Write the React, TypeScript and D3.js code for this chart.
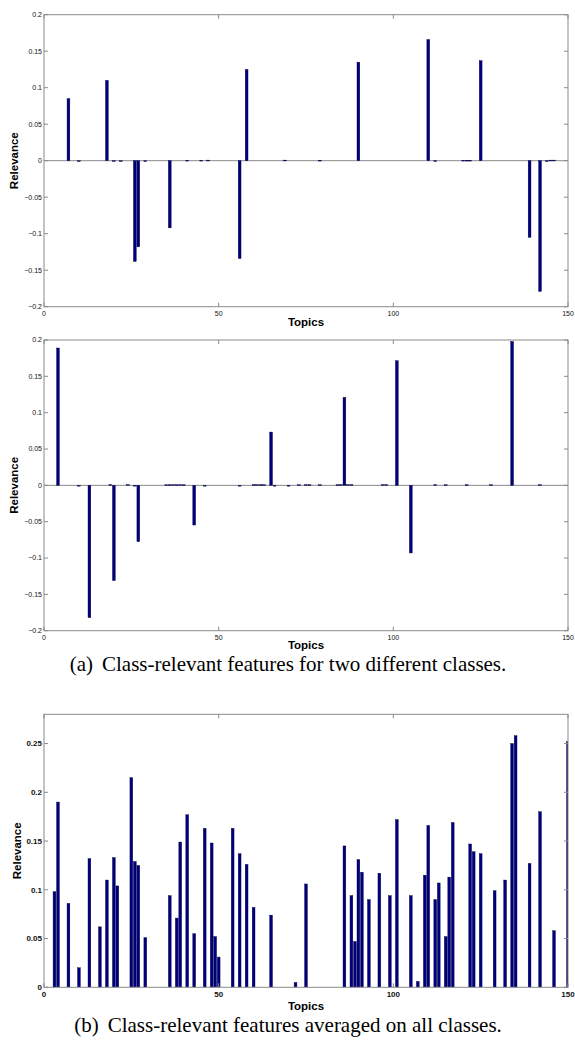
import React, { useEffect, useRef } from "react";
import * as d3 from "d3";

const width = 575;
const height = 1044;

// class A relevance per topic (topics with ~0 values drawn as tiny stubs)
const topicsA = [7, 10, 18, 20, 22, 26, 27, 29, 36, 41, 45, 47, 56, 58, 69, 79, 90, 110, 112, 120, 121, 122, 125, 139, 142, 144, 145, 146];
const valuesA = [0.085, -0.001, 0.11, -0.001, -0.001, -0.138, -0.118, -0.001, -0.092, 0.0006, 0.0006, 0.0008, -0.134, 0.125, 0.0008, 0.0006, 0.135, 0.166, -0.001, 0.0006, 0.0006, 0.0006, 0.137, -0.105, -0.179, -0.001, 0.0008, 0.0008];

// class B
const topicsB = [4, 10, 13, 19, 20, 24, 26, 27, 35, 36, 37, 38, 39, 40, 43, 46, 56, 60, 61, 62, 63, 65, 66, 70, 73, 75, 76, 79, 84, 85, 86, 87, 88, 97, 98, 101, 105, 112, 115, 121, 128, 134, 142];
const valuesB = [0.189, -0.001, -0.182, 0.001, -0.131, 0.001, -0.001, -0.0775, 0.0008, 0.0008, 0.001, 0.0008, 0.001, 0.0008, -0.0546, -0.001, -0.001, 0.0008, 0.001, 0.001, 0.0008, 0.0733, -0.001, -0.001, 0.0008, 0.001, 0.0008, 0.0008, 0.0008, 0.001, 0.121, 0.001, 0.001, 0.001, 0.001, 0.1715, -0.093, 0.001, 0.0008, 0.0008, 0.0008, 0.198, 0.0008];

// averaged on all classes
const topicsAvg = [3, 4, 7, 10, 13, 16, 18, 20, 21, 25, 26, 27, 29, 36, 38, 39, 41, 43, 46, 48, 49, 50, 54, 56, 58, 60, 65, 72, 75, 86, 88, 89, 90, 91, 93, 96, 99, 101, 105, 107, 109, 110, 112, 113, 115, 116, 117, 122, 123, 125, 129, 132, 134, 135, 139, 142, 146, 150];
const valuesAvg = [0.098, 0.19, 0.086, 0.02, 0.132, 0.062, 0.11, 0.133, 0.104, 0.215, 0.129, 0.125, 0.051, 0.094, 0.071, 0.149, 0.177, 0.055, 0.163, 0.148, 0.052, 0.031, 0.163, 0.137, 0.126, 0.082, 0.074, 0.005, 0.106, 0.145, 0.094, 0.047, 0.131, 0.118, 0.09, 0.117, 0.094, 0.172, 0.094, 0.006, 0.115, 0.166, 0.09, 0.107, 0.052, 0.113, 0.169, 0.147, 0.139, 0.137, 0.099, 0.11, 0.25, 0.258, 0.127, 0.18, 0.058, 0.252];

const xTicks = [0, 50, 100, 150];
const yTicksSigned = [-0.2, -0.15, -0.1, -0.05, 0, 0.05, 0.1, 0.15, 0.2];
const yTicksAvg = [0, 0.05, 0.1, 0.15, 0.2, 0.25];

const axisGray = "#8a8a8a";
const barFill = "#00007f";

export default function App() {
  const ref = useRef(null);

  useEffect(() => {
    const svg = d3.select(ref.current);
    svg.selectAll("*").remove();

    const drawPanel = (id, topics, values, top, bottom, yDomain, yTicks, boldTicks, titleOffset, ylabelX) => {
      const left = 44;
      const right = 568;
      const x = d3.scaleLinear().domain([0, 150]).range([left, right]);
      const y = d3.scaleLinear().domain(yDomain).range([bottom, top]);
      const g = svg.append("g");

      g.append("clipPath").attr("id", id)
        .append("rect").attr("x", left).attr("y", top).attr("width", right - left).attr("height", bottom - top);

      // baseline for signed plots
      if (yDomain[0] < 0) {
        g.append("line")
          .attr("x1", left).attr("x2", right)
          .attr("y1", y(0)).attr("y2", y(0))
          .attr("stroke", axisGray).attr("stroke-width", 1);
      }

      const bw = x(0.8) - x(0);
      g.append("g").attr("clip-path", `url(#${id})`)
        .selectAll("rect")
        .data(topics)
        .join("rect")
        .attr("x", (t) => x(t) - bw / 2)
        .attr("width", bw)
        .attr("y", (t, i) => Math.min(y(values[i]), y(0)))
        .attr("height", (t, i) => Math.max(Math.abs(y(values[i]) - y(0)), 0.8))
        .attr("fill", barFill)
        .attr("stroke", "#000040")
        .attr("stroke-width", 0.4);

      // frame
      g.append("rect")
        .attr("x", left).attr("y", top)
        .attr("width", right - left).attr("height", bottom - top)
        .attr("fill", "none").attr("stroke", axisGray).attr("stroke-width", 1);

      const tickLen = 4;
      yTicks.forEach((v) => {
        g.append("line").attr("x1", left).attr("x2", left + tickLen).attr("y1", y(v)).attr("y2", y(v)).attr("stroke", axisGray);
        g.append("line").attr("x1", right).attr("x2", right - tickLen).attr("y1", y(v)).attr("y2", y(v)).attr("stroke", axisGray);
      });
      xTicks.forEach((v) => {
        g.append("line").attr("x1", x(v)).attr("x2", x(v)).attr("y1", bottom).attr("y2", bottom - tickLen).attr("stroke", axisGray);
        g.append("line").attr("x1", x(v)).attr("x2", x(v)).attr("y1", top).attr("y2", top + tickLen).attr("stroke", axisGray);
      });

      const fs = boldTicks ? 8 : 7;
      const fw = boldTicks ? "bold" : "normal";
      g.append("g").selectAll("text").data(yTicks).join("text")
        .attr("x", left - 2)
        .attr("y", (v) => y(v) + fs * 0.35)
        .attr("text-anchor", "end")
        .attr("font-family", "Liberation Sans, Arial, sans-serif")
        .attr("font-size", fs).attr("font-weight", fw)
        .attr("fill", "#111")
        .text((v) => d3.format("~g")(v));
      g.append("g").selectAll("text").data(xTicks).join("text")
        .attr("x", (v) => x(v))
        .attr("y", bottom + fs + 2)
        .attr("text-anchor", "middle")
        .attr("font-family", "Liberation Sans, Arial, sans-serif")
        .attr("font-size", fs).attr("font-weight", fw)
        .attr("fill", "#111")
        .text((v) => v);

      g.append("text")
        .attr("x", (left + right) / 2)
        .attr("y", bottom + titleOffset)
        .attr("text-anchor", "middle")
        .attr("font-family", "Liberation Sans, Arial, sans-serif")
        .attr("font-size", 11.5).attr("font-weight", "bold")
        .text("Topics");
      g.append("text")
        .attr("transform", `translate(${ylabelX},${(top + bottom) / 2}) rotate(-90)`)
        .attr("text-anchor", "middle")
        .attr("font-family", "Liberation Sans, Arial, sans-serif")
        .attr("font-size", 11.5).attr("font-weight", "bold")
        .text("Relevance");
    };

    drawPanel("clipA", topicsA, valuesA, 14.7, 306.7, [-0.2, 0.2], yTicksSigned, false, 19.5, 18);
    drawPanel("clipB", topicsB, valuesB, 340, 630.7, [-0.2, 0.2], yTicksSigned, false, 18.5, 18);
    drawPanel("clipC", topicsAvg, valuesAvg, 714.3, 987.3, [0, 0.28], yTicksAvg, true, 22.5, 21);

    const caption = (yPos, label, text) => {
      const t = svg.append("text")
        .attr("x", 288).attr("y", yPos)
        .attr("text-anchor", "middle")
        .attr("font-family", "Liberation Serif, Times New Roman, serif")
        .attr("font-size", 21)
        .attr("fill", "#000");
      t.append("tspan").text(label);
      t.append("tspan").attr("dx", 9).text(text);
    };
    caption(671, "(a)", "Class-relevant features for two different classes.");
    caption(1032, "(b)", "Class-relevant features averaged on all classes.");
  }, []);

  return (
    <svg
      ref={ref}
      width={width}
      height={height}
      style={{ position: "absolute", left: 0, top: 0, background: "#fff" }}
    />
  );
}
